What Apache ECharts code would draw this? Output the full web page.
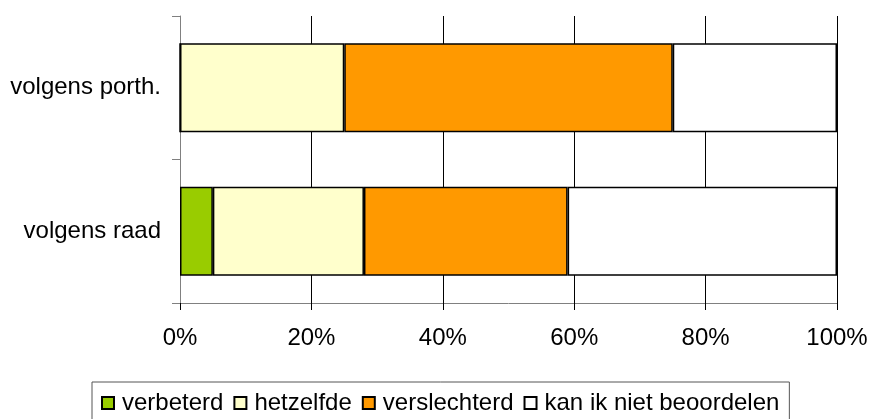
<!DOCTYPE html>
<html>
<head>
<meta charset="utf-8">
<script src="https://cdn.jsdelivr.net/npm/echarts@6/dist/echarts.min.js"></script>
<style>
    html, body { margin: 0; padding: 0; background: #fff; }
    #chart { width: 869px; height: 419px; }
</style>
</head>
<body>
<div id="chart"></div>
<script>
// categorieen (van boven naar onder)
const categories = ['volgens porth.', 'volgens raad'];

// percentages per antwoord
const verbeterd = [0, 5];
const hetzelfde = [25, 23];
const verslechterd = [50, 31];
const kanNiet = [25, 41];

const seriesNames = ['verbeterd', 'hetzelfde', 'verslechterd', 'kan ik niet beoordelen'];
const seriesData = [verbeterd, hetzelfde, verslechterd, kanNiet];
const seriesColors = ['#99CC00', '#FFFFCC', '#FF9900', '#FFFFFF'];

const xTicks = [0, 20, 40, 60, 80, 100];

const font = 'Liberation Sans, Arial, sans-serif';

const myChart = echarts.init(document.getElementById('chart'));

let option = {
    animation: false,
    textStyle: { fontFamily: font },
    grid: { left: 180, right: 32, top: 16, bottom: 116, outerBoundsMode: 'none' },
    legend: {
        left: 92,
        top: 382,
        orient: 'horizontal',
        itemWidth: 12,
        itemHeight: 12,
        itemGap: 10,
        padding: [9, 10, 14, 9],
        borderColor: '#555',
        borderWidth: 1,
        icon: 'rect',
        textStyle: { fontSize: 24, color: '#000', fontFamily: font, padding: [0, 0, 0, 3] },
        data: seriesNames
    },
    xAxis: {
        type: 'value',
        min: xTicks[0],
        max: xTicks[xTicks.length - 1],
        interval: 20,
        axisLine: { show: true, lineStyle: { color: '#808080', width: 1 } },
        axisTick: { show: true, length: 7, lineStyle: { color: '#000' } },
        splitLine: { show: true, lineStyle: { color: '#000', width: 1 } },
        axisLabel: {
            formatter: '{value}%',
            fontSize: 24,
            color: '#000',
            margin: 23,
            fontFamily: font
        }
    },
    yAxis: {
        type: 'category',
        inverse: true,
        data: categories,
        axisLine: { show: true, lineStyle: { color: '#808080', width: 1 } },
        axisTick: { show: true, length: 8, lineStyle: { color: '#808080' } },
        axisLabel: { fontSize: 24, color: '#000', margin: 19, fontFamily: font }
    },
    series: seriesNames.map((name, i) => ({
        name: name,
        type: 'bar',
        stack: 'totaal',
        barCategoryGap: '38%',
        data: seriesData[i],
        itemStyle: {
            color: seriesColors[i],
            borderColor: '#000',
            borderWidth: 1.5
        }
    }))
};

myChart.setOption(option);
</script>
</body>
</html>
